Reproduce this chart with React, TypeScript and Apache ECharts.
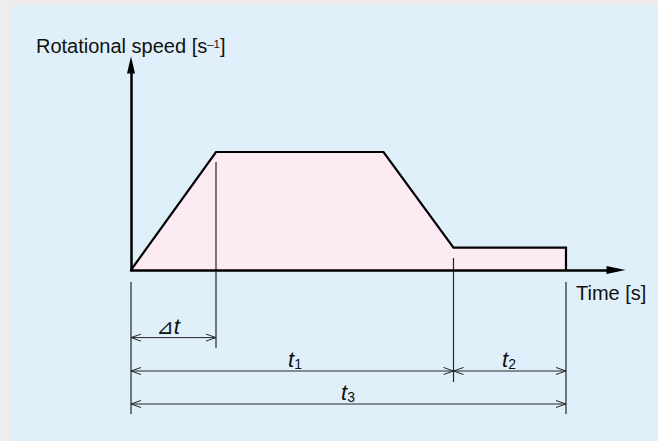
import React, { useEffect, useRef } from "react";
import * as echarts from "echarts";

// Speed profile (time in s, speed in s^-1, arbitrary units)
const profileTimes = [0, 1.7, 5.05, 6.45, 8.7, 8.7];
const profileSpeeds = [0, 5.9, 5.9, 1.12, 1.12, 0];

// Extension (witness) lines: time, top, bottom
const extTimes = [0, 1.7, 6.45, 8.7];
const extTops = [-0.6, 5.4, 0.6, -0.6];
const extBottoms = [-7.2, -3.9, -5.6, -7.2];

// Dimension lines: start, end, level, label position
const dimStarts = [0, 0, 6.45, 0];
const dimEnds = [1.7, 6.45, 8.7, 8.7];
const dimLevels = [-3.38, -5.05, -5.05, -6.7];
const dimLabelX = [0.74, 3.28, 7.56, 4.34];
const dimPrefix = ["⊿", "", "", ""];
const dimSubs = ["", "1", "2", "3"];

const yAxisTitle = "Rotational speed [s";
const yAxisTitleSup = "–1";
const xAxisTitle = "Time [s]";

const FONT = "'Liberation Sans', Arial, Helvetica, sans-serif";

export default function App() {
  const ref = useRef<HTMLDivElement>(null);
  useEffect(() => {
    if (!ref.current) return;
    const chart = echarts.init(ref.current, undefined, { renderer: "svg" });
    const stroke = "#262626";
    const AH = 10;
    const AW = 3.5;
    const dimTexts = dimSubs.map((s, i) => {
      let t = "";
      if (dimPrefix[i]) t += "{tri|" + dimPrefix[i] + "}";
      t += "{it|t}";
      if (s) t += "{sub|" + s + "}";
      return t;
    });
    const labelRich = {
      tri: { fontFamily: "'DejaVu Sans', sans-serif", fontSize: 21, lineHeight: 24, verticalAlign: "bottom", fill: "#111" },
      it: { fontFamily: FONT, fontStyle: "italic", fontSize: 22, lineHeight: 24, verticalAlign: "bottom", fill: "#111" },
      sub: { fontFamily: FONT, fontSize: 14, lineHeight: 14, verticalAlign: "bottom", fill: "#111" },
    };
    const option: any = {
      animation: false,
      backgroundColor: "#ededed",
      grid: { left: 131, right: 42, top: 65, bottom: 171 },
      xAxis: {
        type: "value",
        min: 0,
        max: 9.7,
        z: 5,
        axisLine: {
          show: true,
          symbol: ["none", "triangle"],
          symbolSize: [8, 19],
          lineStyle: { color: "#000", width: 2.5 },
        },
        axisTick: { show: false },
        axisLabel: { show: false },
        splitLine: { show: false },
      },
      yAxis: {
        type: "value",
        min: 0,
        max: 10.25,
        z: 5,
        axisLine: {
          show: true,
          symbol: ["none", "triangle"],
          symbolSize: [8, 17],
          lineStyle: { color: "#000", width: 2.5 },
        },
        axisTick: { show: false },
        axisLabel: { show: false },
        splitLine: { show: false },
      },
      graphic: [
        {
          type: "rect",
          z: -100,
          silent: true,
          shape: { x: 12, y: 5, width: 646, height: 436 },
          style: { fill: "#dff0fa" },
        },
        {
          type: "text",
          x: 36,
          y: 45.5,
          style: {
            text: "{m|" + yAxisTitle + "}{s|" + yAxisTitleSup + "}{m|]}",
            verticalAlign: "middle",
            align: "left",
            rich: {
              m: { fontFamily: FONT, fontSize: 20, lineHeight: 22, verticalAlign: "middle", fill: "#111" },
              s: { fontFamily: FONT, fontSize: 11.5, lineHeight: 18, verticalAlign: "middle", padding: [0, 0, 4, 0], fill: "#111" },
            },
          },
        },
        {
          type: "text",
          x: 576,
          y: 293.2,
          style: {
            text: xAxisTitle,
            fontFamily: FONT,
            fontSize: 20,
            fill: "#111",
            verticalAlign: "middle",
            align: "left",
          },
        },
      ],
      series: [
        {
          type: "line",
          data: profileTimes.map((t, i) => [t, profileSpeeds[i]]),
          symbol: "none",
          z: 3,
          lineStyle: { color: "#000", width: 2.2, join: "miter" },
          areaStyle: { color: "#fcebf3", opacity: 1 },
        },
        {
          type: "custom",
          z: 4,
          data: extTimes.map((t, i) => [t, extTops[i], extBottoms[i]]),
          renderItem: (params: any, api: any) => {
            const p1 = api.coord([api.value(0), api.value(1)]);
            const p2 = api.coord([api.value(0), api.value(2)]);
            return {
              type: "line",
              shape: { x1: p1[0], y1: p1[1], x2: p2[0], y2: p2[1] },
              style: { stroke, lineWidth: 1.2 },
            };
          },
        },
        {
          type: "custom",
          z: 4,
          data: dimStarts.map((s, i) => [s, dimEnds[i], dimLevels[i], dimLabelX[i]]),
          renderItem: (params: any, api: any) => {
            const i = params.dataIndex;
            const a = api.coord([api.value(0), api.value(2)]);
            const b = api.coord([api.value(1), api.value(2)]);
            const c = api.coord([api.value(3), api.value(2)]);
            const y = a[1];
            return {
              type: "group",
              children: [
                {
                  type: "line",
                  shape: { x1: a[0], y1: y, x2: b[0], y2: y },
                  style: { stroke, lineWidth: 1 },
                },
                {
                  type: "polyline",
                  shape: { points: [[a[0] + AH, y - AW], [a[0], y], [a[0] + AH, y + AW]] },
                  style: { stroke, lineWidth: 1, fill: "none" },
                },
                {
                  type: "polyline",
                  shape: { points: [[b[0] - AH, y - AW], [b[0], y], [b[0] - AH, y + AW]] },
                  style: { stroke, lineWidth: 1, fill: "none" },
                },
                {
                  type: "text",
                  x: c[0],
                  y: y - 0.5,
                  style: {
                    text: dimTexts[i],
                    align: "center",
                    verticalAlign: "bottom",
                    rich: labelRich,
                  },
                },
              ],
            };
          },
        },
      ],
    };
    chart.setOption(option);
    return () => chart.dispose();
  }, []);
  return (
    <div
      ref={ref}
      style={{ position: "fixed", left: 0, top: 0, width: 658, height: 441 }}
    />
  );
}
